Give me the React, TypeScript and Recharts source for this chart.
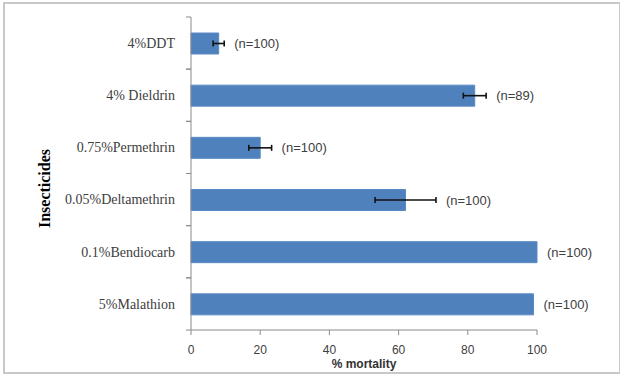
import React from 'react';
import { BarChart, Bar, XAxis, YAxis, ErrorBar, LabelList, Label } from 'recharts';

const insecticides = ['4%DDT', '4% Dieldrin', '0.75%Permethrin', '0.05%Deltamethrin', '0.1%Bendiocarb', '5%Malathion'];
const mortality = [8, 82, 20, 62, 100, 99];
const errors = [1.6, 3.3, 3.3, 8.8, 0, 0];
const sampleSizes = [100, 89, 100, 100, 100, 100];
const xTicks = [0, 20, 40, 60, 80, 100];

const data = insecticides.map((name, i) => ({
    name,
    mortality: mortality[i],
    err: errors[i],
    n: sampleSizes[i],
}));

const W = 620;
const H = 374;
const MARGIN = { top: 17, right: 83, left: 0, bottom: 0 };
const Y_WIDTH = 191;
const X_HEIGHT = 44;
const TICK_SIZE = 5;
const TICK_MARGIN = 11;
const BAND = (H - MARGIN.top - MARGIN.bottom - X_HEIGHT) / insecticides.length;
const AXIS_COLOR = '#8a8a8a';

const CategoryTick = (props: any) => {
    const { x, y, payload } = props;
    const axisX = x + TICK_SIZE + TICK_MARGIN;
    return (
        <g>
            <line x1={axisX - TICK_SIZE} x2={axisX} y1={y - BAND / 2} y2={y - BAND / 2} stroke={AXIS_COLOR} />
            <line x1={axisX - TICK_SIZE} x2={axisX} y1={y + BAND / 2} y2={y + BAND / 2} stroke={AXIS_COLOR} />
            <text
                x={x}
                y={y}
                dy="0.35em"
                textAnchor="end"
                fill="#404040"
                style={{ fontFamily: '"Liberation Serif", serif', fontSize: 14 }}
            >
                {payload.value}
            </text>
        </g>
    );
};

const SampleLabel = (props: any) => {
    const { x, y, width, height, index } = props;
    const pxPerUnit = width / mortality[index];
    const end = x + width + errors[index] * pxPerUnit + 10;
    return (
        <text
            x={end}
            y={y + height / 2}
            dy="0.35em"
            fill="#404040"
            style={{ fontFamily: '"Liberation Sans", sans-serif', fontSize: 13 }}
        >
            {`(n=${sampleSizes[index]})`}
        </text>
    );
};

export default function App() {
    return (
        <div style={{ position: 'absolute', left: 0, top: 0, width: W, height: H, background: '#fff' }}>
            <div
                style={{
                    position: 'absolute',
                    left: 3,
                    top: 2,
                    width: 614,
                    height: 368,
                    border: '2px solid #c8c8c8',
                }}
            />
            <BarChart
                width={W}
                height={H}
                data={data}
                layout="vertical"
                margin={MARGIN}
                style={{ position: 'absolute', left: 0, top: 0 }}
            >
                <XAxis
                    type="number"
                    domain={[0, 100]}
                    ticks={xTicks}
                    height={X_HEIGHT}
                    stroke={AXIS_COLOR}
                    tickSize={5}
                    tickMargin={10}
                    tick={{ fill: '#404040', fontSize: 12, fontFamily: '"Liberation Sans", sans-serif' }}
                >
                    <Label
                        content={(p: any) => {
                            const vb = p.viewBox;
                            return (
                                <text
                                    x={vb.x + vb.width / 2}
                                    y={vb.y + 38}
                                    textAnchor="middle"
                                    fill="#333"
                                    style={{ fontFamily: '"Liberation Sans", sans-serif', fontSize: 12, fontWeight: 'bold' }}
                                >
                                    % mortality
                                </text>
                            );
                        }}
                    />
                </XAxis>
                <YAxis
                    type="category"
                    dataKey="name"
                    width={Y_WIDTH}
                    stroke={AXIS_COLOR}
                    tickLine={false}
                    tickSize={TICK_SIZE}
                    tickMargin={TICK_MARGIN}
                    tick={<CategoryTick />}
                    interval={0}
                >
                    <Label
                        content={(p: any) => {
                            const vb = p.viewBox;
                            const cx = 44;
                            const cy = vb.y + vb.height / 2 + 15;
                            return (
                                <text
                                    x={cx}
                                    y={cy}
                                    textAnchor="middle"
                                    dominantBaseline="central"
                                    transform={`rotate(-90, ${cx}, ${cy})`}
                                    fill="#000"
                                    style={{ fontFamily: '"Liberation Serif", serif', fontSize: 16, fontWeight: 'bold' }}
                                >
                                    Insecticides
                                </text>
                            );
                        }}
                    />
                </YAxis>
                <Bar
                    dataKey="mortality"
                    fill="#4F81BD"
                    stroke="#5a8ac4"
                    barSize={21}
                    isAnimationActive={false}
                >
                    <ErrorBar dataKey="err" direction="x" width={3} stroke="#111" strokeWidth={1.6} />
                    <LabelList dataKey="n" content={<SampleLabel />} />
                </Bar>
            </BarChart>
        </div>
    );
}
